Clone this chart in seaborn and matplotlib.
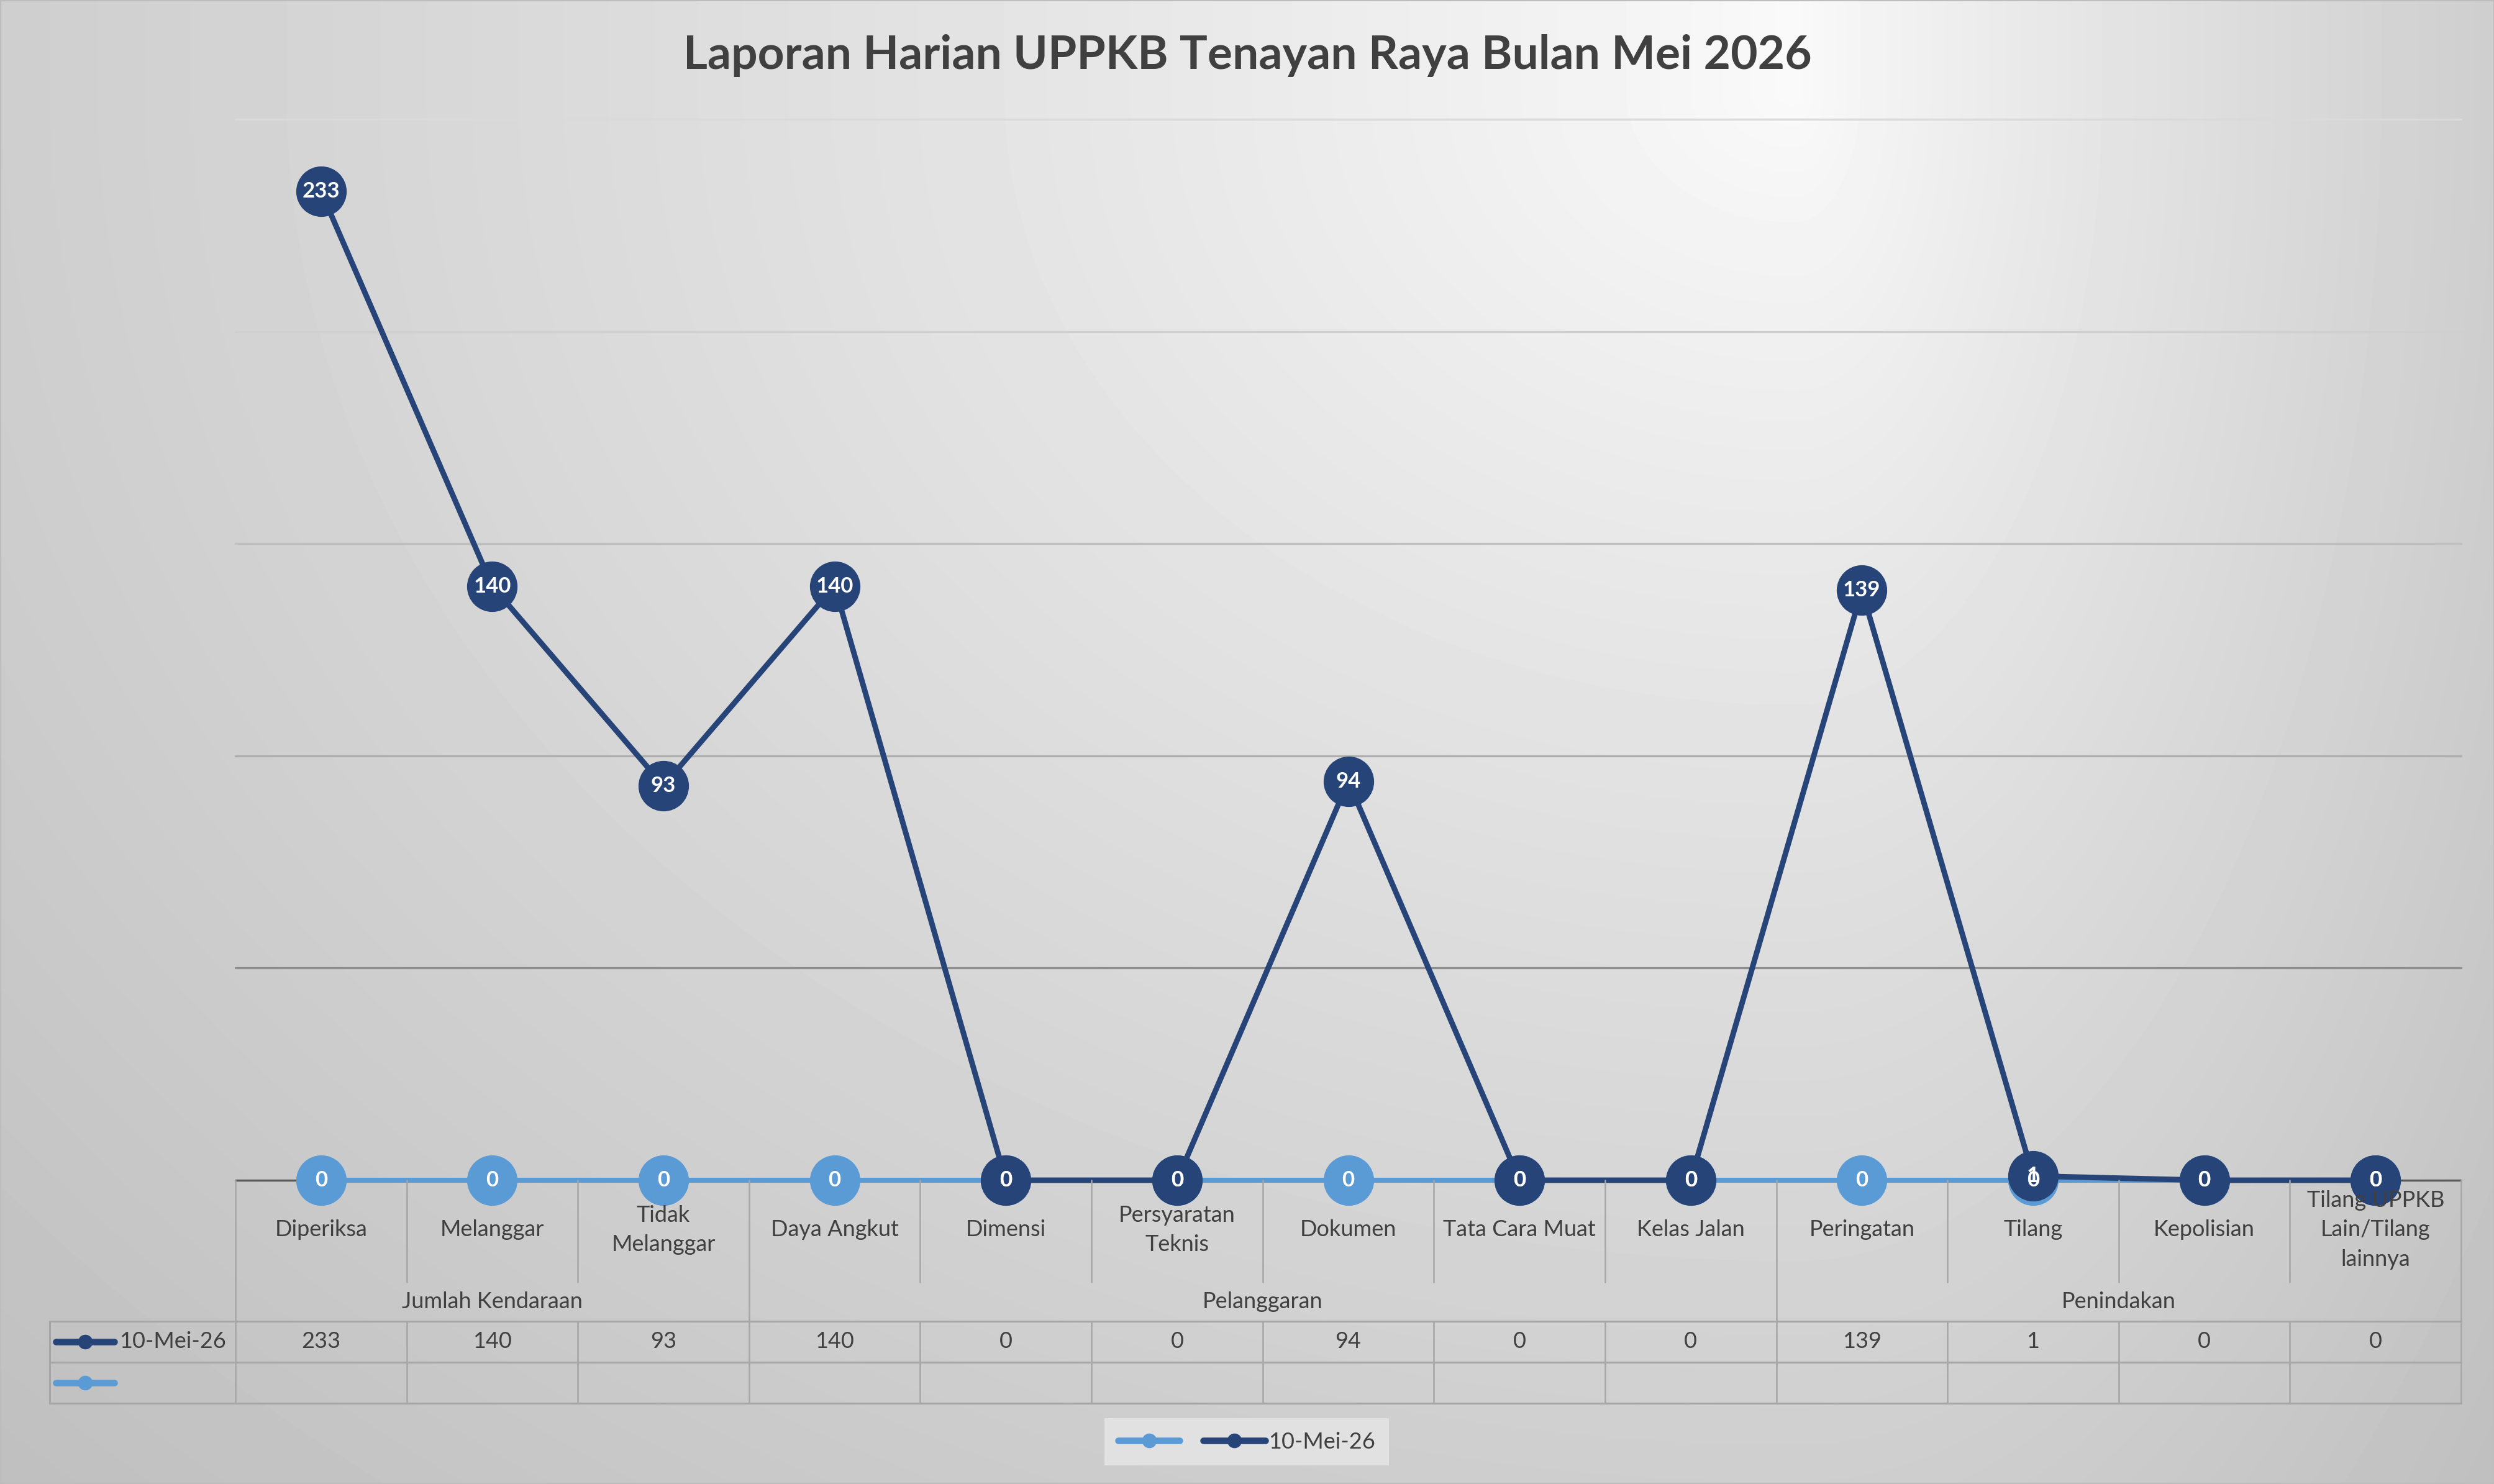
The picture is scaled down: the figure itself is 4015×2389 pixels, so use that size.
import matplotlib.pyplot as plt
import matplotlib.transforms as mtransforms
import numpy as np
import pandas as pd
import seaborn as sns
from matplotlib.lines import Line2D
from matplotlib.patches import Rectangle

# %% data
judul = "Laporan Harian UPPKB Tenayan Raya Bulan Mei 2026"
kategori = [
    "Diperiksa",
    "Melanggar",
    "Tidak\nMelanggar",
    "Daya Angkut",
    "Dimensi",
    "Persyaratan\nTeknis",
    "Dokumen",
    "Tata Cara Muat",
    "Kelas Jalan",
    "Peringatan",
    "Tilang",
    "Kepolisian",
    "Tilang UPPKB\nLain/Tilang\nlainnya",
]
kelompok = ["Jumlah Kendaraan", "Pelanggaran", "Penindakan"]
kelompok_lebar = [3, 6, 4]
seri_utama = "10-Mei-26"
nilai_10mei = [233, 140, 93, 140, 0, 0, 94, 0, 0, 139, 1, 0, 0]
# second series has no name and blank cells, the chart plots them as 0
nilai_tanpa_nama = [0, 0, 0, 0, 0, 0, 0, 0, 0, 0, 0, 0, 0]

# %% style
BIRU_TUA = "#264478"
BIRU_MUDA = "#5b9bd5"
TEKS = "#404040"
GARIS_TABEL = "#a6a6a6"
warna_grid = ["#595959", "#8f8f8f", "#adadad", "#bfbfbf", "#cfcfcf", "#dadada"]

W, H = 4016, 2389


def fx(px):
    return px / W


def fy(py):
    return 1 - py / H


df = pd.concat(
    [
        pd.DataFrame({"kategori": kategori, "nilai": nilai_tanpa_nama, "seri": "tanpa_nama"}),
        pd.DataFrame({"kategori": kategori, "nilai": nilai_10mei, "seri": seri_utama}),
    ],
    ignore_index=True,
)

sns.set_theme(style="white")
plt.rcParams["font.family"] = ["Lato", "DejaVu Sans"]

fig = plt.figure(figsize=(W / 200, H / 200), dpi=200)

# background gradient
bg = fig.add_axes([0, 0, 1, 1], zorder=-1)
xx, yy = np.meshgrid(np.linspace(0, 1, 400), np.linspace(0, 1, 240))
cx, cy = 0.72, 0.06
u = np.where(xx < cx, (cx - xx) / cx, (xx - cx) / (1 - cx))
w = np.clip(yy - cy, 0, None) / (1 - cy)
d = np.sqrt(u**2 + w**2) / np.sqrt(2)
shade = 0.98 - (0.98 - 0.75) * d**0.85
bg.imshow(shade, cmap="gray", vmin=0, vmax=1, aspect="auto",
          extent=[0, 1, 0, 1], origin="upper", interpolation="bilinear")
bg.axis("off")
fig.add_artist(Rectangle((0, 0), 1, 1, transform=fig.transFigure, fill=False,
                         edgecolor="#bdbdbd", lw=1.5))

# %% plot
ax = fig.add_axes([fx(379), fy(1900), fx(3962) - fx(379), fy(192) - fy(1900)])
ax.patch.set_alpha(0)
sns.pointplot(
    data=df, x="kategori", y="nilai", hue="seri", order=kategori,
    hue_order=["tanpa_nama", seri_utama], palette=[BIRU_MUDA, BIRU_TUA],
    markers="o", errorbar=None, markersize=27, linewidth=3.0, legend=False, ax=ax,
)
for ln in ax.lines:
    ln.set_clip_on(False)
    ln.set_linewidth(3.2 if ln.get_color() == BIRU_TUA else 2.9)

ax.set_xlim(-0.5, len(kategori) - 0.5)
ax.set_ylim(0, 250)
ax.set_yticks(range(0, 251, 50))
ax.tick_params(left=False, labelleft=False, bottom=False, labelbottom=False)
ax.set_xlabel("")
ax.set_ylabel("")
sns.despine(ax=ax, left=True, bottom=True)
ax.grid(axis="y", lw=1.2)
for gl, c in zip(ax.get_ygridlines(), warna_grid):
    gl.set_color(c)
    gl.set_clip_on(False)

for nilai in [nilai_tanpa_nama, nilai_10mei]:
    for i, v in enumerate(nilai):
        ax.text(i, v, str(v), ha="center", va="center", color="white",
                fontsize=12.5, fontweight="bold", zorder=10, clip_on=False)

# %% data table under the axis
trans = mtransforms.blended_transform_factory(ax.transData, fig.transFigure)
y_axis, y_sep, y_row0, y_row1, y_row2 = fy(1900), fy(2064), fy(2127), fy(2193), fy(2259)

for i, lab in enumerate(kategori):
    ax.text(i, fy(1980), lab, transform=trans, ha="center", va="center",
            fontsize=13, color=TEKS, linespacing=1.55)
    ax.text(i, (y_row0 + y_row1) / 2, str(nilai_10mei[i]), transform=trans,
            ha="center", va="center", fontsize=13, color=TEKS)

batas = np.cumsum(kelompok_lebar) - 0.5
awal = -0.5
for nama, akhir in zip(kelompok, batas):
    ax.text((awal + akhir) / 2, fy(2095), nama, transform=trans, ha="center",
            va="center", fontsize=13, color=TEKS)
    awal = akhir

for b in np.arange(-0.5, len(kategori), 1.0):
    if b == -0.5 or b in batas:
        fig.add_artist(Line2D([b, b], [y_axis, y_row2], transform=trans,
                              color=GARIS_TABEL, lw=0.9))
    else:
        fig.add_artist(Line2D([b, b], [y_axis, y_sep], transform=trans,
                              color=GARIS_TABEL, lw=0.9))
        fig.add_artist(Line2D([b, b], [y_row0, y_row2], transform=trans,
                              color=GARIS_TABEL, lw=0.9))

x_tab = fx(80)
x_end = ax.get_position().x1
for yv in [y_row0, y_row1, y_row2]:
    fig.add_artist(Line2D([x_tab, x_end], [yv, yv], transform=fig.transFigure,
                          color=GARIS_TABEL, lw=1.1))
fig.add_artist(Line2D([x_tab, x_tab], [y_row0, y_row2], transform=fig.transFigure,
                      color=GARIS_TABEL, lw=1.1))

for yv, warna in [((y_row0 + y_row1) / 2, BIRU_TUA), ((y_row1 + y_row2) / 2, BIRU_MUDA)]:
    fig.add_artist(Line2D([fx(90), fx(137), fx(184)], [yv] * 3, transform=fig.transFigure,
                          color=warna, lw=3.8, solid_capstyle="round",
                          marker="o", markevery=[1], markersize=7.5))
fig.text(fx(192), (y_row0 + y_row1) / 2, seri_utama, ha="left", va="center",
         fontsize=13, color=TEKS)

# %% legend and title
handles = [
    Line2D([], [], color=BIRU_MUDA, lw=3.8, marker="o", markersize=7.5, solid_capstyle="round"),
    Line2D([], [], color=BIRU_TUA, lw=3.8, marker="o", markersize=7.5, solid_capstyle="round"),
]
leg = fig.legend(handles, ["", seri_utama], loc="center", bbox_to_anchor=(fx(2007), fy(2321)),
                 ncol=2, fontsize=13, frameon=True, facecolor="#e1e1e1", edgecolor="none",
                 fancybox=False, framealpha=1, handlelength=2.75, handletextpad=0.15,
                 columnspacing=0.9, borderpad=0.6)
for t in leg.get_texts():
    t.set_color(TEKS)

fig.text(0.5, fy(90), judul, ha="center", va="center", fontsize=27,
         fontweight="bold", color=TEKS)

fig.savefig("out.png", dpi=200)
